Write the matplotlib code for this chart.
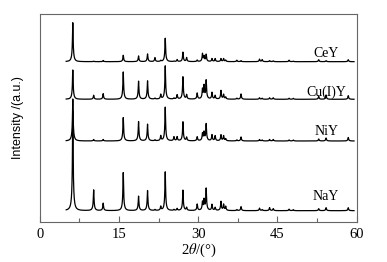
import numpy as np
import matplotlib
matplotlib.use("Agg")
import matplotlib.pyplot as plt
from matplotlib.ticker import MultipleLocator

plt.rcParams["font.family"] = "Liberation Serif"
plt.rcParams["mathtext.fontset"] = "stix"

# peak positions (2theta, deg) shared by all samples
positions = [6.25, 10.2, 12.0, 15.8, 18.7, 20.4, 21.8, 22.9, 23.75, 25.4, 26.0,
             27.1, 27.8, 29.8, 30.8, 31.1, 31.5, 32.6, 33.2, 34.3, 34.8, 35.2,
             37.3, 38.1, 41.6, 42.1, 43.5, 44.2, 47.2, 48.0, 52.8, 54.2, 58.4]

# peak heights (arbitrary units)
h_nay = [100, 20.7, 7.4, 38, 14.4, 20, 1, 4, 38.7, 1, 2,
         20.4, 3, 6.4, 8, 10, 21.7, 6, 3, 9, 6, 4,
         1, 4, 2.5, 1, 3, 2, 1.5, 1, 2, 3, 3]
h_niy = [42, 1.5, 1.5, 23.3, 19.3, 16.7, 1, 5, 33.7, 4, 4,
         19, 3.5, 4, 7, 8, 16.7, 6, 5, 6, 5, 2,
         1, 4, 1.5, 1, 1.5, 1.5, 1, 1, 2, 3, 3.5]
h_cuy = [29.3, 4, 5.6, 27.3, 18, 18.3, 1, 4.6, 33.3, 1, 4.3,
         22.3, 4.3, 6, 9.3, 12.6, 18.3, 6.6, 3.6, 8.6, 4.6, 2,
         1, 5.3, 1.5, 1, 1.5, 1.5, 1, 1, 3, 4.3, 3.6]
h_cey = [39, 0.5, 1.2, 6.4, 5.7, 7.7, 4, 1, 23.4, 0.5, 2,
         9.4, 4, 1.5, 7.7, 5, 7, 3, 3, 3, 3, 1.5,
         1.5, 1, 2.5, 2, 1, 0.8, 1.5, 0.5, 2, 1, 2]

labels = ["NaY", "NiY", "Cu(I)Y", "CeY"]
offsets = [11.3, 81, 122.7, 160.3]
label_dy = [14, 9, 7.3, 7.7]
heights = [h_nay, h_niy, h_cuy, h_cey]

x = np.arange(5.0, 59.5, 0.01)


def pattern(hs):
    y = np.zeros_like(x)
    for p, h in zip(positions, hs):
        y += h * (0.8 / (1 + ((x - p) / 0.07) ** 2) + 0.2 / (1 + ((x - p) / 0.22) ** 2))
    return y


fig = plt.figure(figsize=(3.87, 2.62), dpi=100)
ax = fig.add_axes([0.1028, 0.1527, 0.8189, 0.7939])

for lab, off, dy, hs in zip(labels, offsets, label_dy, heights):
    ax.plot(x, pattern(hs) + off, color="black", lw=0.9)
    ax.text(54.2, off + dy, lab, ha="center", va="center", fontsize=10)

ax.set_xlim(0, 60)
ax.set_ylim(0, 208)
ax.xaxis.set_major_locator(MultipleLocator(15))
ax.xaxis.set_minor_locator(MultipleLocator(7.5))
ax.tick_params(axis="x", which="major", direction="in", length=4, labelsize=10.5,
               width=0.8, color="#666666", pad=4)
ax.tick_params(axis="x", which="minor", direction="in", length=3, width=0.8, color="#666666")
ax.set_yticks([])
for s in ax.spines.values():
    s.set_color("#666666")
    s.set_linewidth(0.8)

ax.set_xlabel(r"2$\theta$/(°)", fontsize=10.5, labelpad=1)
ax.set_ylabel("Intensity /(a.u.)", fontsize=9, family="Liberation Sans")
ax.yaxis.set_label_coords(-0.05, 0.5)

fig.savefig("out.png", dpi=100)
